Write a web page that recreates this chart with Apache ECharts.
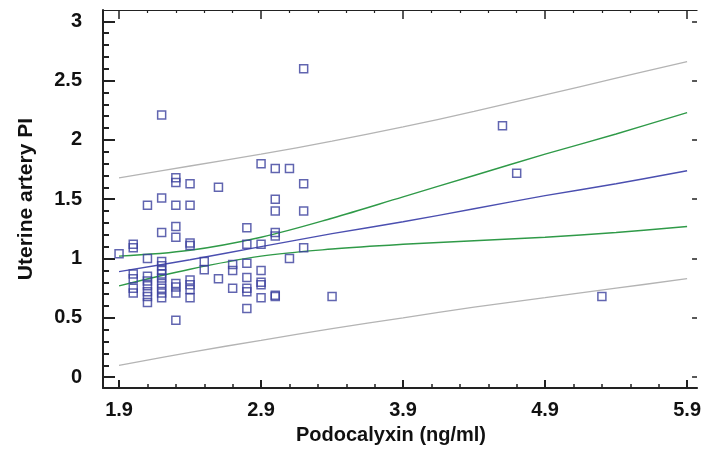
<!DOCTYPE html>
<html>
<head>
<meta charset="utf-8">
<script src="https://cdn.jsdelivr.net/npm/echarts@6/dist/echarts.min.js"></script>
<style>html,body{margin:0;padding:0;background:#fff;}#c{width:704px;height:450px;}</style>
</head>
<body>
<div id="c"></div>
<script>
// Scatter data (Podocalyxin ng/ml, Uterine artery PI)
const podocalyxin = [
  1.9,
  2.0,2.0,2.0,2.0,2.0,2.0,
  2.1,2.1,2.1,2.1,2.1,2.1,2.1,2.1,
  2.2,2.2,2.2,2.2,2.2,2.2,2.2,2.2,2.2,2.2,2.2,2.2,
  2.3,2.3,2.3,2.3,2.3,2.3,2.3,2.3,2.3,
  2.4,2.4,2.4,2.4,2.4,2.4,2.4,2.4,
  2.5,2.5,
  2.6,2.6,
  2.7,2.7,2.7,
  2.8,2.8,2.8,2.8,2.8,2.8,2.8,
  2.9,2.9,2.9,2.9,2.9,2.9,
  3.0,3.0,3.0,3.0,3.0,3.0,3.0,
  3.1,3.1,
  3.2,3.2,3.2,3.2,
  3.4,
  4.6,4.7,5.3
];
const uterinePI = [
  1.04,
  1.12,1.09,0.87,0.83,0.75,0.71,
  1.45,1.00,0.85,0.81,0.77,0.72,0.68,0.63,
  2.21,1.51,1.22,0.975,0.94,0.90,0.87,0.835,0.79,0.75,0.71,0.67,
  1.68,1.64,1.45,1.27,1.18,0.79,0.76,0.71,0.48,
  1.63,1.45,1.13,1.11,0.82,0.78,0.74,0.67,
  0.975,0.905,
  1.60,0.83,
  0.95,0.90,0.75,
  1.26,1.12,0.96,0.84,0.75,0.72,0.58,
  1.80,1.12,0.90,0.80,0.78,0.67,
  1.76,1.50,1.40,1.22,1.19,0.69,0.68,
  1.76,1.00,
  2.60,1.63,1.40,1.09,
  0.68,
  2.12,1.72,0.68
];
// Fitted lines
const lineX        = [1.9, 2.4, 2.9, 3.4, 3.9, 4.4, 4.9, 5.4, 5.9];
const regression   = [0.89, 0.99, 1.10, 1.21, 1.31, 1.42, 1.53, 1.63, 1.74];
const ciUpper      = [1.02, 1.07, 1.18, 1.34, 1.52, 1.70, 1.88, 2.05, 2.23];
const ciLower      = [0.77, 0.91, 1.02, 1.08, 1.12, 1.15, 1.18, 1.22, 1.27];
const piUpper      = [1.68, 1.78, 1.88, 1.99, 2.11, 2.24, 2.38, 2.52, 2.66];
const piLower      = [0.10, 0.21, 0.31, 0.41, 0.50, 0.59, 0.67, 0.75, 0.83];
// Tick labels
const xTicks = [1.9, 2.9, 3.9, 4.9, 5.9];
const yTicks = [0, 0.5, 1, 1.5, 2, 2.5, 3];

const xMinor = [];
for (let i = 0; i < 4; i++) for (let k = 1; k < 5; k++) xMinor.push(+(xTicks[i] + k * 0.2).toFixed(2));
const yMinor = [];
for (let i = 0; i < 6; i++) for (let k = 1; k < 5; k++) yMinor.push(+(yTicks[i] + k * 0.1).toFixed(2));

const XMIN = 1.787, XMAX = 5.97, YMIN = -0.092, YMAX = 3.095;
const FONT = '"Liberation Sans", Arial, sans-serif';
const AX = '#222';

function zip(xs, ys) { return xs.map((x, i) => [x, ys[i]]); }

function xAx(pos, ticks, len, w, opts) {
  return Object.assign({
    type: 'value', position: pos, min: XMIN, max: XMAX,
    axisLine: { show: false, onZero: false }, splitLine: { show: false },
    axisTick: { show: true, inside: true, length: len, customValues: ticks, lineStyle: { color: AX, width: w } },
    axisLabel: { show: false }
  }, opts || {});
}
function yAx(pos, ticks, len, w, opts) {
  return Object.assign({
    type: 'value', position: pos, min: YMIN, max: YMAX,
    axisLine: { show: false, onZero: false }, splitLine: { show: false },
    axisTick: { show: true, inside: true, length: len, customValues: ticks, lineStyle: { color: AX, width: w } },
    axisLabel: { show: false }
  }, opts || {});
}

const chart = echarts.init(document.getElementById('c'), null, { renderer: 'canvas' });
const lineSeries = (data, color, w) => ({
  type: 'line', data: data, showSymbol: false, symbol: 'none', silent: true, smooth: 0.35,
  lineStyle: { color: color, width: w }, xAxisIndex: 0, yAxisIndex: 0, z: 2
});

chart.setOption({
  animation: false,
  grid: { left: 103, right: 0, top: 10, bottom: 59 },
  xAxis: [
    xAx('bottom', xTicks, 8, 2, {
      axisLine: { show: true, onZero: false, lineStyle: { color: AX, width: 2 } },
      axisLabel: { show: true, customValues: xTicks, fontSize: 20, fontWeight: 'bold', fontFamily: FONT, color: '#111', margin: 12 },
      name: 'Podocalyxin (ng/ml)', nameLocation: 'middle', nameGap: 36,
      nameTextStyle: { fontSize: 20, fontWeight: 'bold', fontFamily: FONT, color: '#111', padding: [0, 18, 0, 0] }
    }),
    xAx('bottom', xMinor, 4, 1.5),
    xAx('top', xTicks, 9, 1.5, { axisLine: { show: true, onZero: false, lineStyle: { color: AX, width: 1.2 } } }),
    xAx('top', xMinor, 3, 1.2)
  ],
  yAxis: [
    yAx('left', yTicks, 12, 2, {
      axisLine: { show: true, onZero: false, lineStyle: { color: AX, width: 2 } },
      axisLabel: { show: true, customValues: yTicks, fontSize: 20, fontWeight: 'bold', fontFamily: FONT, color: '#111', margin: 21 },
      name: 'Uterine artery PI', nameLocation: 'middle', nameGap: 66, nameRotate: 90,
      nameTextStyle: { fontSize: 21, fontWeight: 'bold', fontFamily: FONT, color: '#111' }
    }),
    yAx('left', yMinor, 6, 2),
    yAx('right', yTicks, 5, 1.5)
  ],
  series: [
    lineSeries(zip(lineX, piUpper), '#b4b4b4', 1.3),
    lineSeries(zip(lineX, piLower), '#b4b4b4', 1.3),
    lineSeries(zip(lineX, ciUpper), '#2f9a48', 1.4),
    lineSeries(zip(lineX, ciLower), '#2f9a48', 1.4),
    lineSeries(zip(lineX, regression), '#4b4fb0', 1.4),
    {
      type: 'scatter', data: zip(podocalyxin, uterinePI), symbol: 'rect', symbolSize: 8,
      xAxisIndex: 0, yAxisIndex: 0, z: 3,
      itemStyle: { color: 'rgba(255,255,255,0)', borderColor: '#3a3f9c', borderWidth: 1.5 }
    }
  ]
});
</script>
</body>
</html>
